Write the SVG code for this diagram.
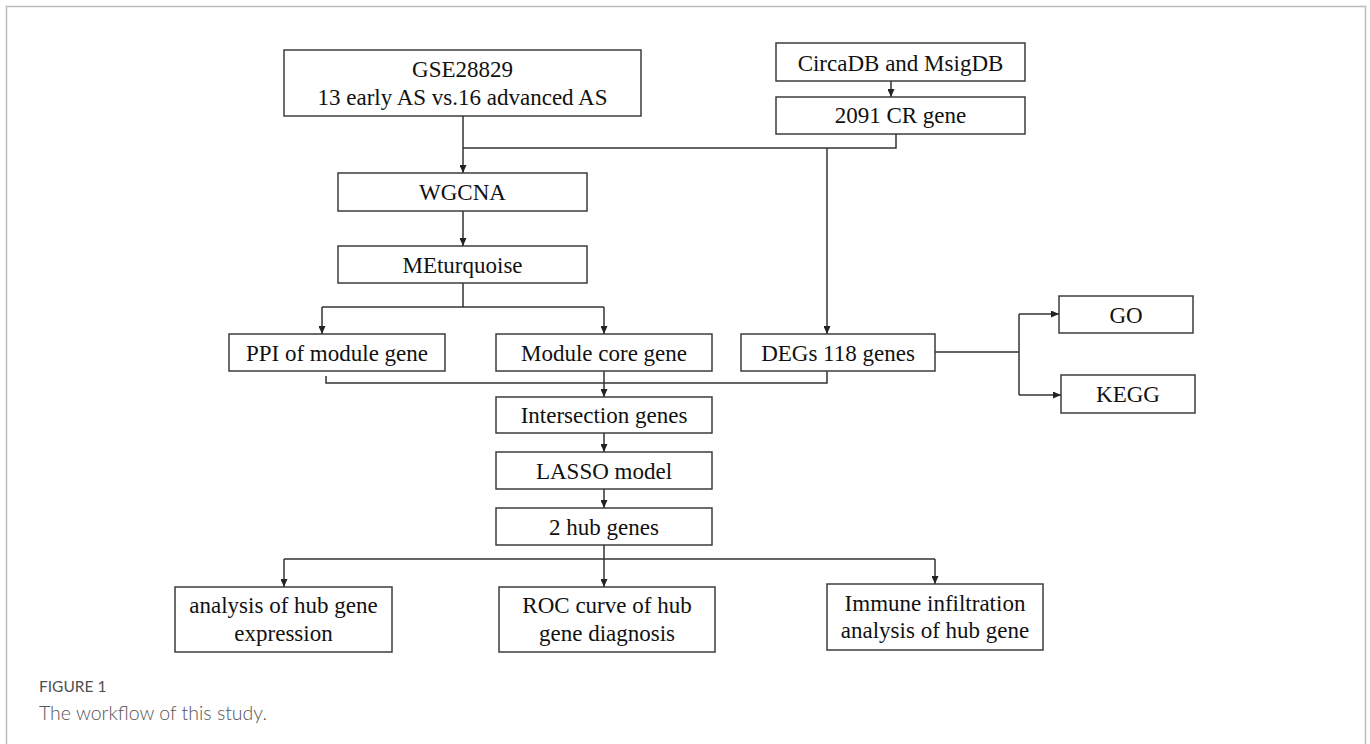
<svg xmlns="http://www.w3.org/2000/svg" width="1370" height="744" viewBox="0 0 1370 744">
<style>
  .box { fill: #ffffff; stroke: #3c3c3c; stroke-width: 1.5; }
  .t { font-family: "Liberation Serif", "Times New Roman", serif; font-size: 23px; fill: #111111; text-anchor: middle; }
  .conn { fill: none; stroke: #333333; stroke-width: 1.5; }
  .frame { fill: none; stroke: #bdbdbd; stroke-width: 1.5; }
  .cap1 { font-family: Lato, "Liberation Sans", sans-serif; font-size: 15.5px; fill: #505050; }
  .cap2 { font-family: Lato, "Liberation Sans", sans-serif; font-weight: 300; font-size: 19.5px; fill: #555555; }
</style>
<defs>
  <marker id="arr" viewBox="0 0 10 10" refX="10" refY="5" markerWidth="8" markerHeight="7" markerUnits="userSpaceOnUse" orient="auto" preserveAspectRatio="none">
    <path d="M0,0 L10,5 L0,10 z" fill="#222222"/>
  </marker>
</defs>
<rect width="1370" height="744" fill="#ffffff"/>
<rect class="frame" x="6.5" y="6.5" width="1359" height="760"/>

<g id="connectors">
  <path class="conn" d="M463,116 V173" marker-end="url(#arr)"/>
  <path class="conn" d="M463,148 H896 V134"/>
  <path class="conn" d="M891,81 V97" marker-end="url(#arr)"/>
  <path class="conn" d="M827,148 V334" marker-end="url(#arr)"/>
  <path class="conn" d="M463,211 V246" marker-end="url(#arr)"/>
  <path class="conn" d="M463,283 V307"/>
  <path class="conn" d="M322,307 H604"/>
  <path class="conn" d="M322,307 V334" marker-end="url(#arr)"/>
  <path class="conn" d="M604,307 V334" marker-end="url(#arr)"/>
  <path class="conn" d="M326,376 V383 H827 V371"/>
  <path class="conn" d="M604,371 V397" marker-end="url(#arr)"/>
  <path class="conn" d="M604,433 V452" marker-end="url(#arr)"/>
  <path class="conn" d="M604,489 V508" marker-end="url(#arr)"/>
  <path class="conn" d="M935,352 H1019"/>
  <path class="conn" d="M1019,314 V395"/>
  <path class="conn" d="M1019,314 H1059" marker-end="url(#arr)"/>
  <path class="conn" d="M1019,395 H1061" marker-end="url(#arr)"/>
  <path class="conn" d="M604,545 V587" marker-end="url(#arr)"/>
  <path class="conn" d="M284,559 H935"/>
  <path class="conn" d="M284,559 V587" marker-end="url(#arr)"/>
  <path class="conn" d="M935,559 V584" marker-end="url(#arr)"/>
</g>

<g id="node-gse">
  <rect class="box" x="284" y="50" width="357" height="66"/>
  <text class="t" x="462.5" y="77">GSE28829</text>
  <text class="t" x="462.5" y="105">13 early AS vs.16 advanced AS</text>
</g>
<g id="node-circadb">
  <rect class="box" x="776" y="43" width="249" height="38"/>
  <text class="t" x="900.5" y="71">CircaDB and MsigDB</text>
</g>
<g id="node-cr">
  <rect class="box" x="776" y="97" width="249" height="37"/>
  <text class="t" x="900.5" y="123">2091 CR gene</text>
</g>
<g id="node-wgcna">
  <rect class="box" x="338" y="173" width="249" height="38"/>
  <text class="t" x="462.5" y="200">WGCNA</text>
</g>
<g id="node-meturquoise">
  <rect class="box" x="338" y="246" width="249" height="37"/>
  <text class="t" x="462.5" y="273">MEturquoise</text>
</g>
<g id="node-ppi">
  <rect class="box" x="229" y="334" width="216" height="37"/>
  <text class="t" x="337" y="361">PPI of module gene</text>
</g>
<g id="node-module-core">
  <rect class="box" x="496" y="334" width="216" height="37"/>
  <text class="t" x="604" y="361">Module core gene</text>
</g>
<g id="node-degs">
  <rect class="box" x="741" y="334" width="194" height="37"/>
  <text class="t" x="838" y="361">DEGs 118 genes</text>
</g>
<g id="node-go">
  <rect class="box" x="1059" y="296" width="134" height="37"/>
  <text class="t" x="1126" y="322.5">GO</text>
</g>
<g id="node-kegg">
  <rect class="box" x="1061" y="375" width="134" height="38"/>
  <text class="t" x="1128" y="402">KEGG</text>
</g>
<g id="node-intersection">
  <rect class="box" x="496" y="397" width="216" height="36"/>
  <text class="t" x="604" y="423">Intersection genes</text>
</g>
<g id="node-lasso">
  <rect class="box" x="496" y="452" width="216" height="37"/>
  <text class="t" x="604" y="479">LASSO model</text>
</g>
<g id="node-hub">
  <rect class="box" x="496" y="508" width="216" height="37"/>
  <text class="t" x="604" y="535">2 hub genes</text>
</g>
<g id="node-analysis">
  <rect class="box" x="175" y="587" width="217" height="65"/>
  <text class="t" x="283.5" y="613">analysis of hub gene</text>
  <text class="t" x="283.5" y="641">expression</text>
</g>
<g id="node-roc">
  <rect class="box" x="499" y="587" width="216" height="65"/>
  <text class="t" x="607" y="613">ROC curve of hub</text>
  <text class="t" x="607" y="641">gene diagnosis</text>
</g>
<g id="node-immune">
  <rect class="box" x="827" y="584" width="216" height="66"/>
  <text class="t" x="935" y="611">Immune infiltration</text>
  <text class="t" x="935" y="638">analysis of hub gene</text>
</g>

<g id="caption">
  <text class="cap1" x="39" y="692">FIGURE 1</text>
  <text class="cap2" x="39" y="720">The workflow of this study.</text>
</g>
</svg>
